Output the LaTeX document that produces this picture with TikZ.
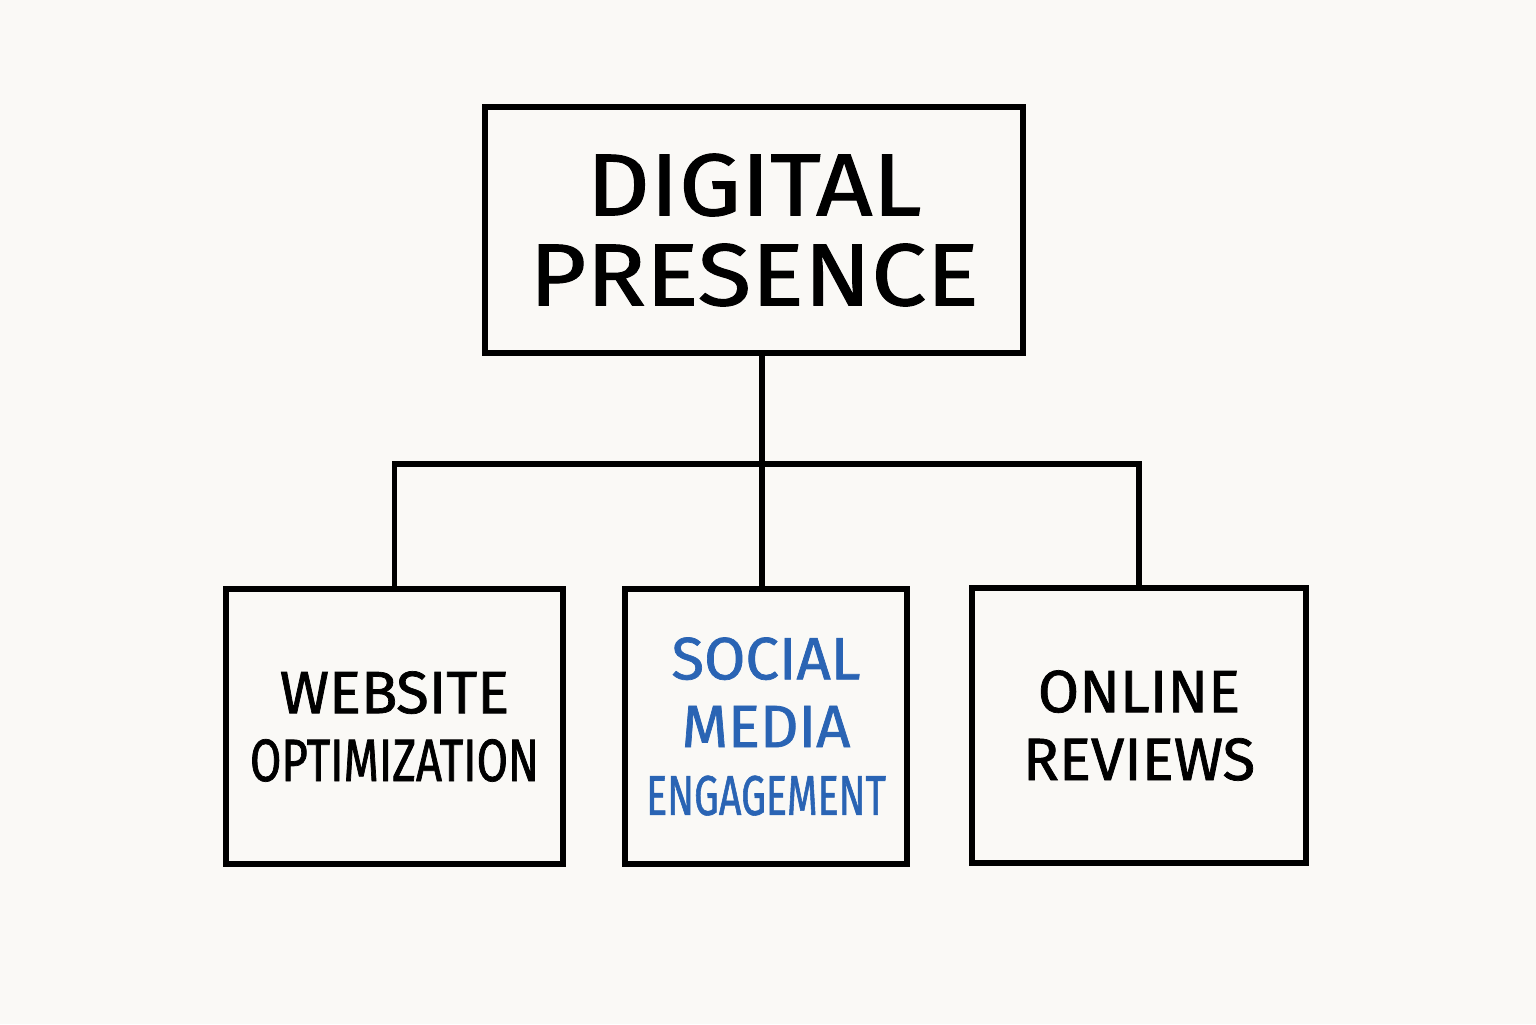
\documentclass[tikz,border=0pt]{standalone}
\usepackage{fontspec}
\setmainfont{Fira Sans}
\newfontfamily\widefont[FakeStretch=1.12, FakeBold=1.2]{Fira Sans}
\newfontfamily\boxfont[FakeStretch=1.0, FakeBold=1.2]{Fira Sans}
\newfontfamily\narrowfont[FakeStretch=0.76, FakeBold=1.2]{Fira Sans}
\newfontfamily\tightfont[FakeStretch=0.70, FakeBold=1.0]{Fira Sans}
\definecolor{paper}{HTML}{FAF9F6}
\definecolor{inkblue}{HTML}{2A64B4}
\tikzset{
  box/.style={draw=black, line width=1.5pt, align=center, inner sep=0pt},
  topbox/.style={box, minimum width=5.38cm, minimum height=2.46cm,
    font=\widefont\fontsize{25}{25.6}\selectfont},
  subbox/.style={box, minimum height=2.75cm,
    font=\boxfont\fontsize{17}{19.3}\selectfont},
  link/.style={line width=1.5pt}
}
\begin{document}
\begin{tikzpicture}
  \useasboundingbox[fill=paper] (0,0) rectangle (15.36,-10.24);
  % top of the tree
  \node[topbox] (top) at (7.54,-2.30) {DIGITAL\\PRESENCE};
  % three branches
  \node[subbox, minimum width=3.37cm] (web) at (3.945,-7.265)
    {WEBSITE\\{\narrowfont OPTIMIZATION}};
  \node[subbox, minimum width=2.82cm, text=inkblue] (soc) at (7.66,-7.265)
    {SOCIAL\\MEDIA\\{\tightfont\fontsize{16}{19.3}\selectfont ENGAGEMENT}};
  \node[subbox, minimum width=3.34cm] (rev) at (11.39,-7.255) {ONLINE\\REVIEWS};
  % connectors
  \coordinate (split) at (7.62,-4.64);
  \draw[link] (split |- top.south) -- (split |- soc.north);
  \draw[link] (web.north) |- (split) -| (rev.north);
\end{tikzpicture}
\end{document}
